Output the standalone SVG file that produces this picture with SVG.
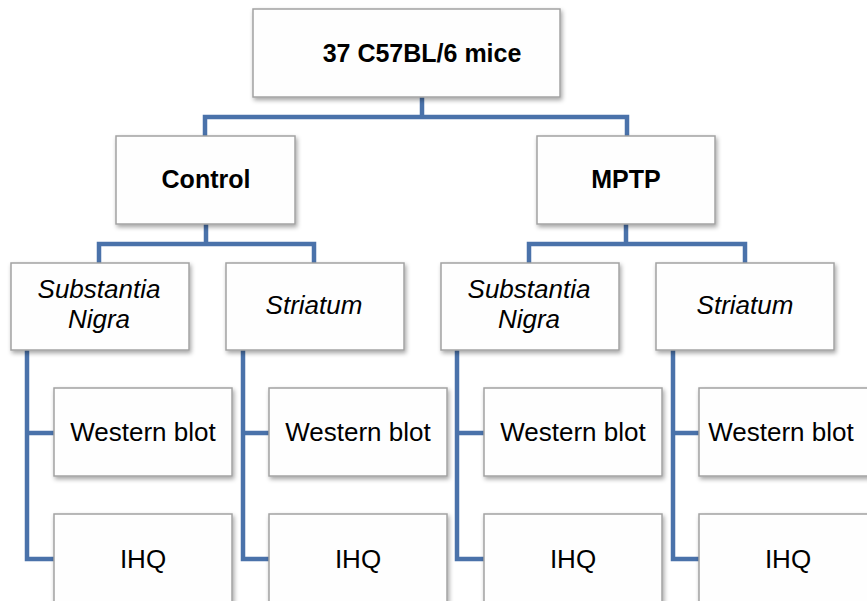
<svg xmlns="http://www.w3.org/2000/svg" width="867" height="601" viewBox="0 0 867 601">
<defs>
<filter id="sh" x="-10%" y="-10%" width="130%" height="130%">
<feDropShadow dx="1.5" dy="2.5" stdDeviation="2" flood-color="#000" flood-opacity="0.35"/>
</filter>
<style>
.box{fill:#fefefe;stroke:#a3a3a3;stroke-width:1.5;filter:url(#sh)}
.t{font-family:"Liberation Sans",Arial,sans-serif;font-size:26px;fill:#000;text-anchor:middle}
.b{font-weight:bold;font-size:25px}
.i{font-style:italic}
.c{fill:none;stroke:#4a72aa;stroke-width:4.5;stroke-linejoin:miter}
</style>
</defs>
<rect width="867" height="601" fill="#fff"/>
<g id="connectors">
<path class="c" d="M422,97 V117 M205,136 V117 H627 V136"/>
<path class="c" d="M206,224 V244 M99,263 V244 H314 V263"/>
<path class="c" d="M626,224 V244 M529,263 V244 H745 V263"/>
<path class="c" d="M27,350 V559 H54 M27,433 H54"/>
<path class="c" d="M243,350 V559 H269 M243,433 H269"/>
<path class="c" d="M457,350 V559 H484 M457,433 H484"/>
<path class="c" d="M673,350 V559 H699 M673,433 H699"/>
</g>
<g id="root"><rect class="box" x="253" y="9" width="307" height="88"/><text class="t b" x="422" y="62">37 C57BL/6 mice</text></g>
<g id="control"><rect class="box" x="116" y="136" width="179" height="88"/><text class="t b" x="206" y="188">Control</text></g>
<g id="mptp"><rect class="box" x="537" y="136" width="178" height="88"/><text class="t b" x="626" y="188">MPTP</text></g>
<g id="sn1"><rect class="box" x="11" y="263" width="178" height="87"/><text class="t i" x="99" y="298">Substantia</text><text class="t i" x="99" y="328">Nigra</text></g>
<g id="str1"><rect class="box" x="226" y="263" width="178" height="87"/><text class="t i" x="314" y="314">Striatum</text></g>
<g id="sn2"><rect class="box" x="441" y="263" width="178" height="87"/><text class="t i" x="529" y="298">Substantia</text><text class="t i" x="529" y="328">Nigra</text></g>
<g id="str2"><rect class="box" x="656" y="263" width="178" height="87"/><text class="t i" x="745" y="314">Striatum</text></g>
<g id="wb1"><rect class="box" x="54" y="388" width="178" height="88"/><text class="t" x="143" y="441">Western blot</text></g>
<g id="wb2"><rect class="box" x="269" y="388" width="178" height="88"/><text class="t" x="358" y="441">Western blot</text></g>
<g id="wb3"><rect class="box" x="484" y="388" width="178" height="88"/><text class="t" x="573" y="441">Western blot</text></g>
<g id="wb4"><rect class="box" x="699" y="388" width="178" height="88"/><text class="t" x="781" y="441">Western blot</text></g>
<g id="ihq1"><rect class="box" x="54" y="514" width="178" height="100"/><text class="t" x="143" y="568">IHQ</text></g>
<g id="ihq2"><rect class="box" x="269" y="514" width="178" height="100"/><text class="t" x="358" y="568">IHQ</text></g>
<g id="ihq3"><rect class="box" x="484" y="514" width="178" height="100"/><text class="t" x="573" y="568">IHQ</text></g>
<g id="ihq4"><rect class="box" x="699" y="514" width="178" height="100"/><text class="t" x="788" y="568">IHQ</text></g>
</svg>
